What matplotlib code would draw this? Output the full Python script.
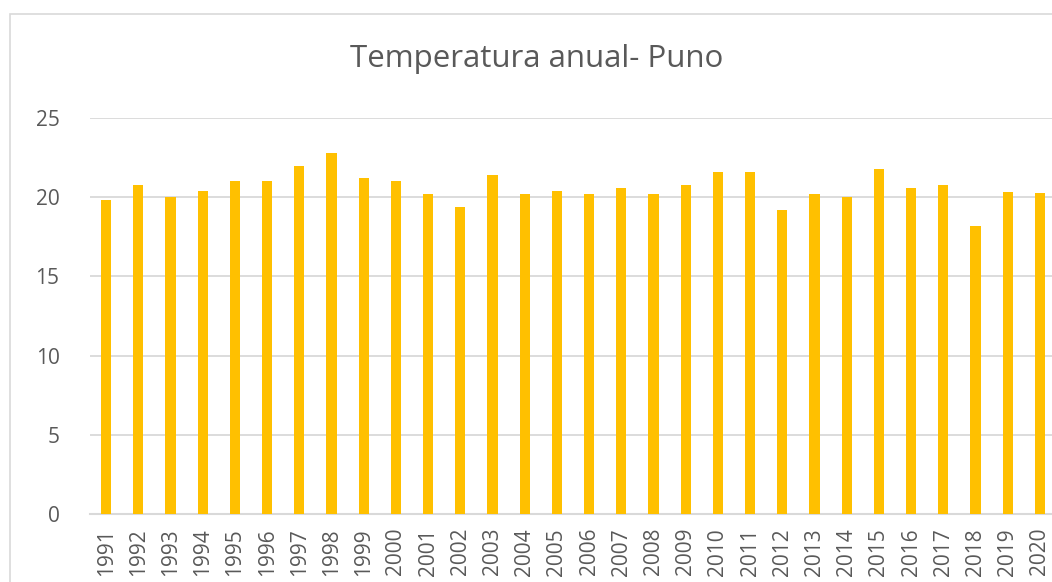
import matplotlib
matplotlib.use("Agg")
import matplotlib.pyplot as plt
from matplotlib.patches import Rectangle

years = [str(y) for y in range(1991, 2021)]
temps = [19.8, 20.8, 20.0, 20.4, 21.0, 21.0, 22.0, 22.8, 21.2, 21.0,
         20.2, 19.4, 21.4, 20.2, 20.4, 20.2, 20.6, 20.2, 20.8, 21.6,
         21.6, 19.2, 20.2, 20.0, 21.8, 20.6, 20.8, 18.2, 20.3, 20.25]
yticks = [0, 5, 10, 15, 20, 25]
title = "Temperatura anual- Puno"

plt.rcParams['font.family'] = ['Open Sans', 'DejaVu Sans']
W, H = 1052, 582
fig = plt.figure(figsize=(W / 100, H / 100), dpi=100)
fig.patch.set_facecolor('white')

# chart border (cropped on right and bottom)
fig.patches.append(Rectangle((10 / W, -0.1), 1.2, 1 - 14 / H + 0.1,
                             transform=fig.transFigure, fill=False,
                             edgecolor='#d9d9d9', linewidth=1.2))

left, right = 90 / W, 1056 / W
bottom, top = 1 - 514 / H, 1 - 118 / H
ax = fig.add_axes([left, bottom, right - left, top - bottom])
x = list(range(len(years)))
ax.bar(x, temps, width=0.32, color='#FFC000', zorder=3)
ax.set_xlim(-0.5, len(years) - 0.5)
ax.set_ylim(0, 25)
ax.set_yticks(yticks)
ax.set_xticks(x)
ax.set_xticklabels(years, rotation=90, fontsize=15, color='#595959')
ax.tick_params(axis='y', labelsize=15, labelcolor='#595959', length=0, pad=22)
ax.tick_params(axis='x', length=0, pad=10)
ax.grid(axis='y', color='#d9d9d9', linewidth=1.3, zorder=0)
for s in ['top', 'right', 'left']:
    ax.spines[s].set_visible(False)
ax.spines['bottom'].set_color('#d9d9d9')
ax.spines['bottom'].set_linewidth(1.5)

fig.text(537 / W, 1 - 59 / H, title, ha='center', va='center',
         fontsize=22.5, color='#595959')

fig.savefig('out.png', dpi=100)
